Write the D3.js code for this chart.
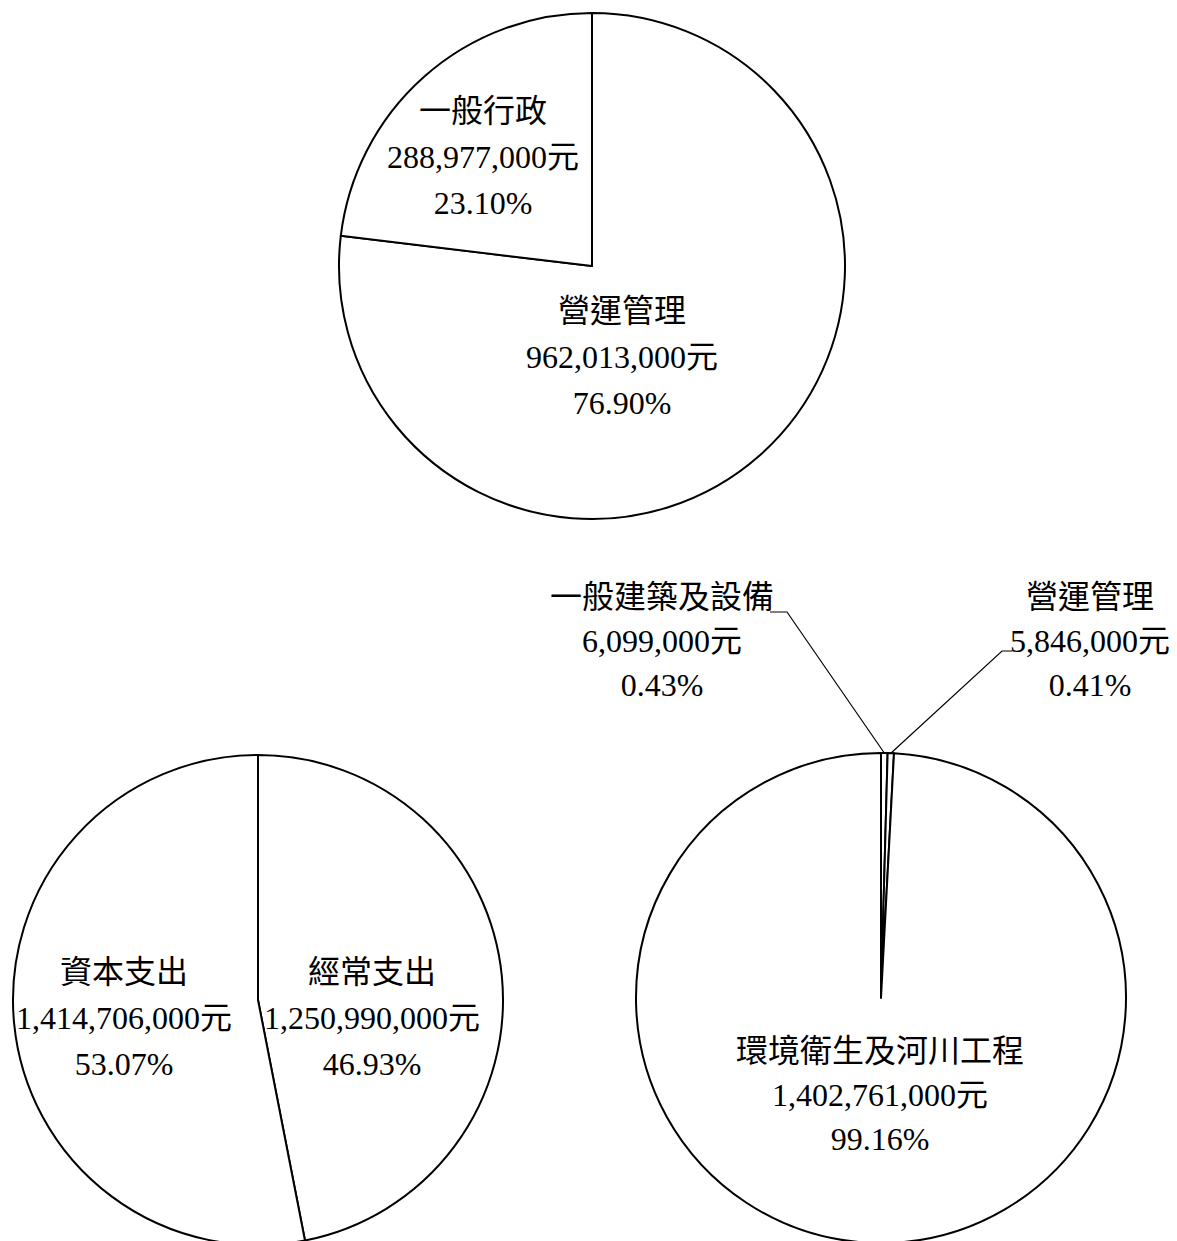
<!DOCTYPE html>
<html>
<head>
  <meta charset="UTF-8">
  <title>預算分配圓餅圖</title>
  <script src="https://d3js.org/d3.v7.min.js"></script>
  <style>
    body { margin: 0; background: #fff; }
    text { font-family: "Liberation Serif", "Noto Sans CJK TC", serif; font-size: 32px; fill: #000; }
  </style>
</head>
<body>
  <svg width="1177" height="1241"></svg>

  <script>
    // Data
    const topCategories = ["營運管理", "一般行政"];
    const topValues = [962013000, 288977000];

    const leftCategories = ["經常支出", "資本支出"];
    const leftValues = [1250990000, 1414706000];

    const rightCategories = ["一般建築及設備", "營運管理", "環境衛生及河川工程"];
    const rightValues = [6099000, 5846000, 1402761000];

    // Layout of each pie (center, radius, label block offsets from center)
    const pies = [
      { cats: topCategories, vals: topValues, cx: 592, cy: 266, r: 253, gap: 46,
        labels: [{ dx: 30, dy: 91 }, { dx: -109, dy: -109 }] },
      { cats: leftCategories, vals: leftValues, cx: 258, cy: 1000, r: 245, gap: 46,
        labels: [{ dx: 114, dy: 18 }, { dx: -134, dy: 18 }] },
      { cats: rightCategories, vals: rightValues, cx: 881, cy: 998, r: 245, gap: 44,
        labels: [
          { dx: -219, dy: -357, leader: [[-94, -386], [-111, -386]] },
          { dx: 209, dy: -357, leader: [[121, -347], [131, -347]] },
          { dx: -1, dy: 97 }
        ] }
    ];

    const fmtNum = d3.format(",");
    const fmtPct = d3.format(".2%");

    const svg = d3.select("svg");

    pies.forEach(p => {
      const total = d3.sum(p.vals);
      const rows = p.cats.map((c, i) => ({ name: c, value: p.vals[i] }));

      const pie = d3.pie().sort(null).value(d => d.value);
      const arcs = pie(rows);
      const arc = d3.arc().innerRadius(0).outerRadius(p.r);
      const edge = d3.arc().innerRadius(p.r).outerRadius(p.r);

      const g = svg.append("g").attr("transform", `translate(${p.cx},${p.cy})`);

      g.selectAll("path.slice")
        .data(arcs)
        .join("path")
        .attr("class", "slice")
        .attr("d", arc)
        .attr("fill", "#fff")
        .attr("stroke", "#000")
        .attr("stroke-width", 2)
        .attr("stroke-linejoin", "round");

      arcs.forEach((a, i) => {
        const lab = p.labels[i];
        const lines = [a.data.name, fmtNum(a.data.value) + "元", fmtPct(a.data.value / total)];

        if (lab.leader) {
          const start = edge.centroid(a);
          const pts = [start, lab.leader[0], lab.leader[1]];
          g.append("path")
            .attr("d", d3.line()(pts))
            .attr("fill", "none")
            .attr("stroke", "#000")
            .attr("stroke-width", 1.2);
        }

        const t = g.append("text")
          .attr("text-anchor", "middle")
          .attr("dominant-baseline", "central");
        lines.forEach((s, k) => {
          t.append("tspan")
            .attr("x", lab.dx)
            .attr("y", lab.dy + (k - 1) * p.gap)
            .text(s);
        });
      });
    });
  </script>
</body>
</html>
